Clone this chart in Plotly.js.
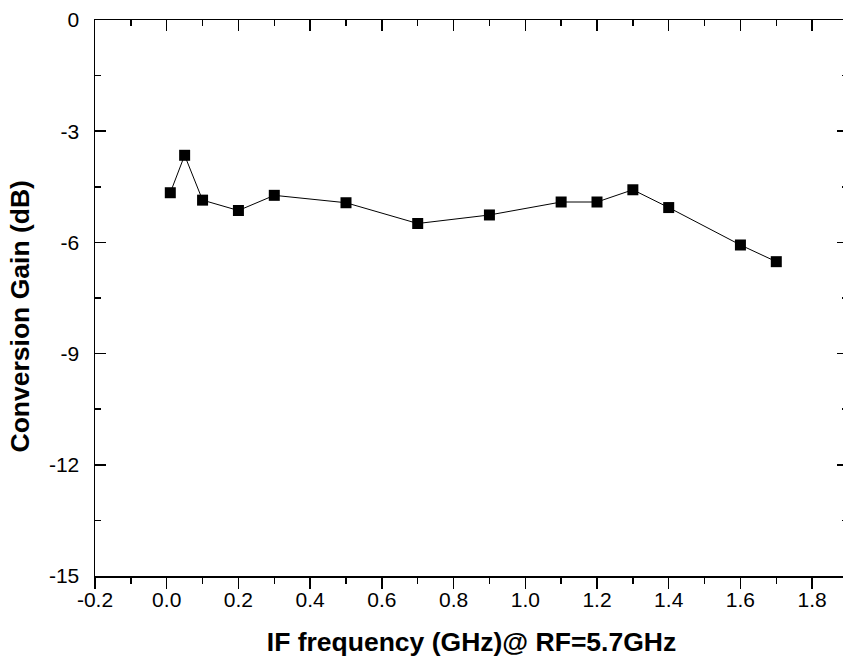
<!DOCTYPE html>
<html>
<head>
<meta charset="utf-8">
<script src="https://cdn.plot.ly/plotly-3.0.1.min.js"></script>
<style>
html,body{margin:0;padding:0;overflow:hidden;background:#fff;}
#chart{width:849px;height:666px;}
</style>
</head>
<body>
<div id="chart"></div>
<script>
const ifFreq = [0.01, 0.05, 0.1, 0.2, 0.3, 0.5, 0.7, 0.9, 1.1, 1.2, 1.3, 1.4, 1.6, 1.7];
const convGain = [-4.66, -3.65, -4.86, -5.14, -4.73, -4.93, -5.49, -5.26, -4.91, -4.91, -4.58, -5.06, -6.07, -6.52];
const xTickVals = [-0.2, 0, 0.2, 0.4, 0.6, 0.8, 1.0, 1.2, 1.4, 1.6, 1.8];
const xTickText = ['-0.2', '0.0', '0.2', '0.4', '0.6', '0.8', '1.0', '1.2', '1.4', '1.6', '1.8'];
const yTickVals = [0, -3, -6, -9, -12, -15];
const yTickText = ['0', '-3', '-6', '-9', '-12', '-15'];
const xTitle = 'IF frequency (GHz)@ RF=5.7GHz';
const yTitle = 'Conversion Gain (dB)';

const font = 'Arial, "Liberation Sans", Helvetica, sans-serif';
const xRange = [-0.2, 1.9];

const traces = [
  {
    x: ifFreq, y: convGain, type: 'scatter', mode: 'lines+markers',
    line: {color: '#000', width: 1},
    marker: {symbol: 'square', size: 11, color: '#000'},
    hoverinfo: 'x+y', showlegend: false
  },
  {
    x: ifFreq, y: convGain, type: 'scatter', mode: 'markers',
    xaxis: 'x2', marker: {opacity: 0}, hoverinfo: 'skip', showlegend: false
  },
  {
    x: ifFreq, y: convGain, type: 'scatter', mode: 'markers',
    xaxis: 'x3', marker: {opacity: 0}, hoverinfo: 'skip', showlegend: false
  }
];

const tickStyle = {tickwidth: 1.5, tickcolor: '#000'};

const layout = {
  width: 849, height: 666,
  margin: {l: 95, r: 1, t: 20, b: 90},
  paper_bgcolor: '#fff', plot_bgcolor: '#fff',
  font: {family: font, color: '#000', size: 21},
  xaxis: {
    range: xRange, tickmode: 'array', tickvals: xTickVals, ticktext: xTickText,
    ticks: 'outside', ticklen: 4, tickwidth: 1, tickcolor: 'rgba(0,0,0,0)',
    showline: true, linecolor: '#000', linewidth: 1.5,
    showgrid: false, zeroline: false,
    tickfont: {size: 21, family: font},
    title: {text: '<b>' + xTitle + '</b>', font: {size: 26.5, family: font}, standoff: 22}
  },
  xaxis3: Object.assign({
    overlaying: 'x', side: 'bottom', range: xRange, tick0: -0.2, dtick: 0.2,
    ticks: 'outside', ticklen: 11,
    minor: Object.assign({dtick: 0.1, ticks: 'outside', ticklen: 6}, tickStyle),
    showline: true, linecolor: '#000', linewidth: 1.5,
    showticklabels: false, showgrid: false, zeroline: false
  }, tickStyle),
  xaxis2: Object.assign({
    overlaying: 'x', side: 'top', range: xRange, tick0: -0.2, dtick: 0.2,
    ticks: 'inside', ticklen: 11,
    minor: Object.assign({dtick: 0.1, ticks: 'inside', ticklen: 6}, tickStyle),
    showline: true, linecolor: '#000', linewidth: 1.5,
    showticklabels: false, showgrid: false, zeroline: false
  }, tickStyle),
  yaxis: Object.assign({
    range: [-15, 0], tickmode: 'array', tickvals: yTickVals, ticktext: yTickText,
    ticks: 'inside', ticklen: 11,
    minor: Object.assign({dtick: 1.5, tick0: 0, ticks: 'inside', ticklen: 6}, tickStyle),
    showline: true, linecolor: '#000', linewidth: 1.5, mirror: 'ticks',
    showgrid: false, zeroline: false,
    tickfont: {size: 21, family: font},
    ticklabelstandoff: 10
  }, tickStyle),
  annotations: [{
    text: '<b>' + yTitle + '</b>', textangle: -90, showarrow: false,
    xref: 'paper', yref: 'paper', x: -0.099, y: 0.4676,
    xanchor: 'center', yanchor: 'middle',
    font: {size: 26.5, family: font, color: '#000'}
  }]
};

Plotly.newPlot('chart', traces, layout, {displayModeBar: false, staticPlot: true});
</script>
</body>
</html>
